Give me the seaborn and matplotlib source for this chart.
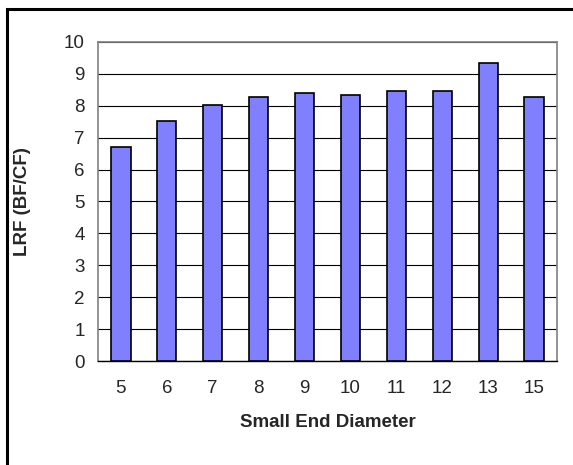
import matplotlib
matplotlib.use("Agg")
import matplotlib.pyplot as plt
from matplotlib.patches import Rectangle
import seaborn as sns
import pandas as pd

# Log-run factor by small end diameter
diameters = ["5", "6", "7", "8", "9", "10", "11", "12", "13", "15"]
lrf_values = [6.72, 7.51, 8.03, 8.29, 8.41, 8.34, 8.45, 8.45, 9.34, 8.28]

df = pd.DataFrame({"Small End Diameter": diameters, "LRF (BF/CF)": lrf_values})

sns.set_style("white")
plt.rcParams["font.family"] = ["Liberation Sans", "DejaVu Sans"]

fig = plt.figure(figsize=(5.73, 4.65), dpi=100)
ax = fig.add_axes([98 / 573, 1 - 361 / 465, (557 - 98) / 573, (361 - 42) / 465])

sns.barplot(data=df, x="Small End Diameter", y="LRF (BF/CF)", ax=ax,
            color="#8080FF", saturation=1, width=0.42,
            edgecolor="black", linewidth=1.2, zorder=3)

ax.set_ylim(0, 10)
ax.set_xlim(-0.5, len(diameters) - 0.5)
ax.set_yticks(range(0, 11))
ax.yaxis.grid(True, color="black", linewidth=0.8, zorder=0)
ax.set_axisbelow(True)

# Category separators on the x axis
ax.set_xticks([i - 0.5 for i in range(len(diameters) + 1)], minor=True)
ax.tick_params(axis="x", which="major", length=0, labelsize=13.5, pad=14)
ax.tick_params(axis="x", which="minor", length=4, width=0.8, color="#808080", direction="out")
ax.tick_params(axis="y", length=4, width=0.8, color="black", labelsize=13.5, pad=5.5, direction="out")

for side in ["top", "right", "left"]:
    ax.spines[side].set_color("#808080")
    ax.spines[side].set_linewidth(1.2)
ax.spines["bottom"].set_color("black")
ax.spines["bottom"].set_linewidth(1.0)

ax.set_xlabel("Small End Diameter", fontsize=13.5, fontweight="bold", labelpad=12)
ax.set_ylabel("LRF (BF/CF)", fontsize=13.5, fontweight="bold", labelpad=24)

# Chart-area frame
fig.patches.append(Rectangle((7 / 573, -0.1), 1.1, 1 - 9.5 / 465 + 0.1,
                             transform=fig.transFigure, fill=False,
                             edgecolor="black", linewidth=2.2, zorder=10))

fig.savefig("out.png", dpi=100)
